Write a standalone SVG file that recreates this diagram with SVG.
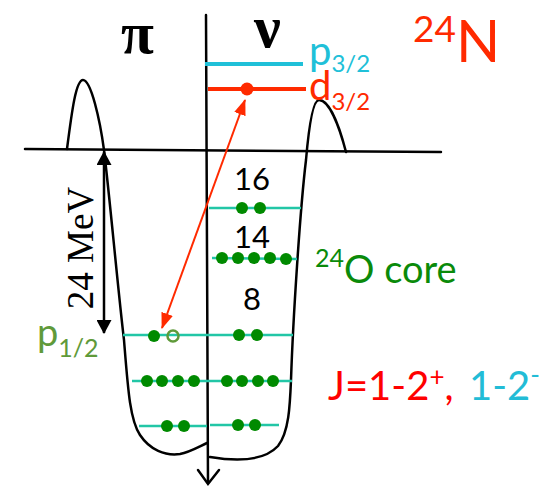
<svg xmlns="http://www.w3.org/2000/svg" width="554" height="488" viewBox="0 0 554 488">
<style>
.ln{fill:none;stroke:#000;stroke-width:2.5;stroke-linecap:round}
.lv{stroke:#22c6a6;stroke-width:2.5}
.dot{fill:#008a00}
.sans{font-family:Lato,"Open Sans","Liberation Sans",sans-serif}
.serif{font-family:"Liberation Serif","DejaVu Serif",serif}
</style>
<defs>
<marker id="redHead" viewBox="0 0 16 12" refX="15" refY="6" markerWidth="16" markerHeight="12" markerUnits="userSpaceOnUse" orient="auto-start-reverse">
<path d="M0,0 L16,6 L0,12 z" fill="#ff2a00"/>
</marker>
<marker id="blkHead" viewBox="0 0 14 15" refX="13" refY="7.5" markerWidth="14" markerHeight="15" markerUnits="userSpaceOnUse" orient="auto-start-reverse">
<path d="M0,0 L14,7.5 L0,15 z" fill="#000"/>
</marker>
</defs>
<rect width="554" height="488" fill="#fff"/>

<g id="well">
<line class="ln" x1="25" y1="149" x2="441" y2="152" stroke-width="2"/>
<path class="ln" d="M67,149 C72,110 76,80 83,80 C91,80 100,120 104,150 C110,200 118,290 124,340 C128,390 130,420 140,435 C150,450 165,456 180,454 C190,452 200,446 207,443"/>
<path class="ln" d="M210,457 C240,462 265,460 278,446 C289,432 290,405 291,380 C293,320 300,210 306,160 C309,125 313,100 319,100 C329,100 339,125 346,152"/>
<line class="ln" x1="206" y1="15" x2="208" y2="483" stroke-width="2"/>
<polyline class="ln" points="198,470 208,484 219,470" stroke-width="3.5"/>
</g>

<g id="levels">
<line x1="205" y1="64" x2="303" y2="64" stroke="#20c0d8" stroke-width="4"/>
<line x1="208" y1="89" x2="306" y2="89" stroke="#ff2a00" stroke-width="4"/>
<circle cx="247" cy="89" r="6.5" fill="#ff2a00"/>
<line class="lv" x1="209" y1="208" x2="301" y2="208"/>
<circle class="dot" cx="242" cy="208" r="6"/><circle class="dot" cx="260" cy="208" r="6"/>
<line class="lv" x1="212" y1="258" x2="297" y2="259"/>
<circle class="dot" cx="222" cy="258" r="6"/><circle class="dot" cx="238" cy="258" r="6"/><circle class="dot" cx="254" cy="258" r="6"/><circle class="dot" cx="270" cy="258" r="6"/><circle class="dot" cx="286" cy="259" r="6"/>
<line class="lv" x1="123" y1="335" x2="293" y2="335"/>
<circle class="dot" cx="154" cy="336" r="6"/>
<circle cx="173" cy="336" r="5.5" fill="none" stroke="#5f9a3a" stroke-width="2.5"/>
<circle class="dot" cx="239" cy="335" r="6"/><circle class="dot" cx="257" cy="335" r="6"/>
<line class="lv" x1="132" y1="381" x2="292" y2="381"/>
<circle class="dot" cx="147" cy="381" r="6"/><circle class="dot" cx="162" cy="381" r="6"/><circle class="dot" cx="178" cy="381" r="6"/><circle class="dot" cx="194" cy="381" r="6"/>
<circle class="dot" cx="227" cy="381" r="6"/><circle class="dot" cx="242" cy="381" r="6"/><circle class="dot" cx="258" cy="381" r="6"/><circle class="dot" cx="273" cy="381" r="6"/>
<line class="lv" x1="139" y1="426" x2="207" y2="426"/>
<line class="lv" x1="210" y1="425" x2="279" y2="425"/>
<circle class="dot" cx="167" cy="426" r="6"/><circle class="dot" cx="184" cy="426" r="6"/>
<circle class="dot" cx="238" cy="425" r="6"/><circle class="dot" cx="255" cy="425" r="6"/>
</g>

<g id="connectors">
<line x1="162" y1="328" x2="245" y2="100" stroke="#ff2a00" stroke-width="2" marker-start="url(#redHead)" marker-end="url(#redHead)"/>
<line x1="104" y1="152" x2="104" y2="333" stroke="#000" stroke-width="2.5" marker-start="url(#blkHead)" marker-end="url(#blkHead)"/>
</g>

<g id="labels">
<text class="serif" x="121" y="53" font-size="60" font-weight="bold">π</text>
<text class="serif" x="254" y="47" font-size="60" font-weight="bold">ν</text>
<text class="serif" transform="translate(93,248) rotate(-90)" text-anchor="middle" font-size="37">24 MeV</text>
<text class="sans" x="309" y="65" font-size="40" fill="#20c0d8">p<tspan font-size="24" y="72">3/2</tspan></text>
<text class="sans" x="309" y="100" font-size="40" fill="#ff2a00">d<tspan font-size="24" y="110">3/2</tspan></text>
<text class="sans" x="413" y="42" font-size="37" fill="#ff2a00">24<tspan font-size="58" y="62">N</tspan></text>
<text class="sans" x="252" y="190" font-size="31" text-anchor="middle">16</text>
<text class="sans" x="252" y="248" font-size="31" text-anchor="middle">14</text>
<text class="sans" x="252" y="310" font-size="31" text-anchor="middle">8</text>
<text class="sans" x="315" y="267" font-size="25" fill="#0a8a0a">24<tspan font-size="38" y="283">O core</tspan></text>
<text class="sans" x="37" y="346" font-size="38" fill="#5f9a3a">p<tspan font-size="25" y="357">1/2</tspan></text>
<text class="sans" x="328" y="400" font-size="40" fill="#ff0000">J=1-2<tspan font-size="26" y="386">+</tspan><tspan y="400">,</tspan><tspan x="469" y="400" fill="#22bcd6">1-2</tspan><tspan font-size="26" y="384" fill="#22bcd6">-</tspan></text>
</g>
</svg>
